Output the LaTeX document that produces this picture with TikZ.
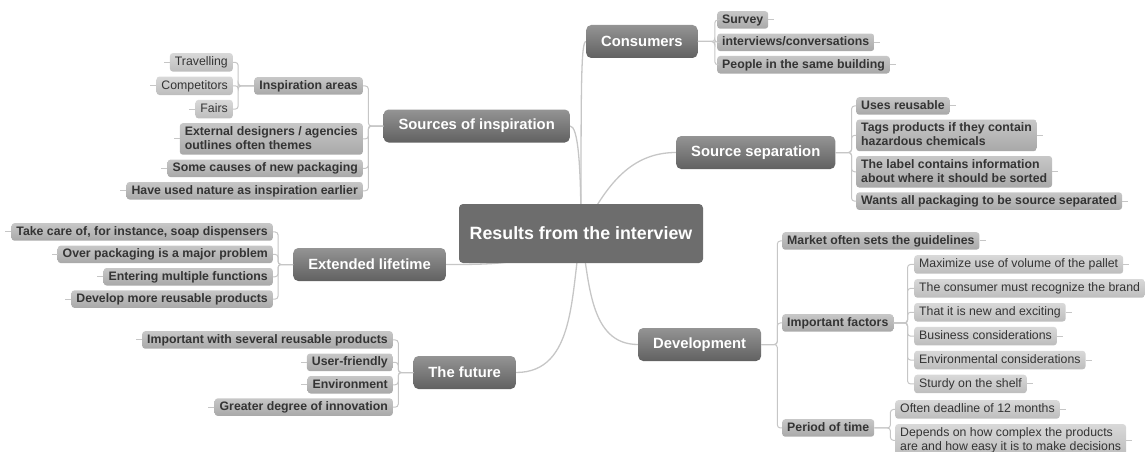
\documentclass[tikz,border=0pt]{standalone}
\usepackage{fontspec}
\setmainfont{Liberation Sans}
\usepackage{tikz}
\usetikzlibrary{positioning, backgrounds}
\definecolor{linkgray}{HTML}{C6C6C6}
\definecolor{rootgray}{HTML}{6D6D6D}
\definecolor{inkgray}{HTML}{343434}
\tikzset{
x=1pt, y=1pt,
link/.style={draw=linkgray, line width=1pt, rounded corners=3pt},
branch/.style={draw=linkgray, line width=1.3pt},
spine/.style={to path={-- ++(#1,0) |- (\tikztotarget)}},
root/.style={%
    rectangle,
    rounded corners=4pt,
    fill=rootgray,
    minimum width=244pt, minimum height=59pt,
    text=white,
    font=\fontsize{17.8}{20}\selectfont\bfseries
},
topic/.style={%
    rectangle,
    rounded corners=5pt,
    top color=black!42, bottom color=black!62,
    minimum height=33pt, inner xsep=15pt,
    text=white,
    font=\fontsize{14.8}{17}\selectfont\bfseries
},
sub/.style={%
    rectangle,
    rounded corners=3pt,
    top color=black!22, bottom color=black!34,
    inner xsep=5pt, inner ysep=2.5pt,
    text height=9.5pt, text depth=3pt,
    align=left, text=inkgray,
    font=\fontsize{12.3}{14}\selectfont\bfseries
},
item/.style={%
    sub,
    top color=black!15, bottom color=black!26,
    inner ysep=3pt,
    % plain weight for the third level
    font=\fontsize{12.3}{14}\selectfont
},
two/.style={text height=23.5pt},
rstub/.style={append after command={(\tikzlastnode.east) edge[link] ++(6,0)}},
lstub/.style={append after command={(\tikzlastnode.west) edge[link] ++(-6,0)}},
}

\begin{document}
\begin{tikzpicture}
	\useasboundingbox (0,0) rectangle (1145,-452);
	\node[root] (root) at (581,-233.5) {Results from the interview};

	% main topics
	\node[topic, anchor=west] (cons) at (586,-41.5) {Consumers};
	\node[topic, anchor=east] (insp) at (570,-126) {Sources of inspiration};
	\node[topic, anchor=west] (sep) at (676,-152.5) {Source separation};
	\node[topic, anchor=east] (life) at (446,-264.5) {Extended lifetime};
	\node[topic, anchor=east] (fut) at (516,-372.5) {The future};
	\node[topic, anchor=west] (dev) at (638,-344.5) {Development};

	% consumers
	\node[sub, rstub, anchor=north west] (survey) at (717,-11) {Survey};
	\node[sub, rstub, below=4.5pt of survey.south west, anchor=north west] (talks) {interviews/conversations};
	\node[sub, rstub, below=4.5pt of talks.south west, anchor=north west] (house) {People in the same building};

	% sources of inspiration
	\node[sub, anchor=north east] (areas) at (363,-77) {Inspiration areas};
	\node[item, lstub, anchor=east] (rivals) at (233,-85.75) {Competitors};
	\node[item, lstub, above=4.5pt of rivals.north east, anchor=south east] (travel) {Travelling};
	\node[item, lstub, below=4.5pt of rivals.south east, anchor=north east] (fairs) {Fairs};
	\node[sub, two, lstub, anchor=north east] (agency) at (363,-123) {External designers / agencies\\outlines often themes};
	\node[sub, lstub, below=4.5pt of agency.south east, anchor=north east] (causes) {Some causes of new packaging};
	\node[sub, lstub, below=4.5pt of causes.south east, anchor=north east] (nature) {Have used nature as inspiration earlier};

	% source separation
	\node[sub, rstub, anchor=north west] (reuse) at (856,-97) {Uses reusable};
	\node[sub, two, rstub, below=4.5pt of reuse.south west, anchor=north west] (tags) {Tags products if they contain\\hazardous chemicals};
	\node[sub, two, rstub, below=4.5pt of tags.south west, anchor=north west] (label) {The label contains information\\about where it should be sorted};
	\node[sub, rstub, below=4.5pt of label.south west, anchor=north west] (sorted) {Wants all packaging to be source separated};

	% extended lifetime
	\node[sub, lstub, anchor=north east] (soap) at (273,-223) {Take care of, for instance, soap dispensers};
	\node[sub, lstub, below=4.5pt of soap.south east, anchor=north east] (overpack) {Over packaging is a major problem};
	\node[sub, lstub, below=4.5pt of overpack.south east, anchor=north east] (multi) {Entering multiple functions};
	\node[sub, lstub, below=4.5pt of multi.south east, anchor=north east] (reusable) {Develop more reusable products};

	% the future
	\node[sub, lstub, anchor=north east] (several) at (393,-331) {Important with several reusable products};
	\node[sub, lstub, below=4.5pt of several.south east, anchor=north east] (friendly) {User-friendly};
	\node[sub, lstub, below=4.5pt of friendly.south east, anchor=north east] (environ) {Environment};
	\node[sub, lstub, below=4.5pt of environ.south east, anchor=north east] (innov) {Greater degree of innovation};

	% development
	\node[sub, rstub, anchor=north west] (market) at (782,-232) {Market often sets the guidelines};
	\node[sub, anchor=north west] (factors) at (782,-314) {Important factors};
	\node[sub, anchor=north west] (period) at (782,-419) {Period of time};
	\node[item, rstub, anchor=north west] (pallet) at (914,-255) {Maximize use of volume of the pallet};
	\node[item, rstub, below=5pt of pallet.south west, anchor=north west] (brand) {The consumer must recognize the brand};
	\node[item, rstub, below=5pt of brand.south west, anchor=north west] (novel) {That it is new and exciting};
	\node[item, rstub, below=5pt of novel.south west, anchor=north west] (business) {Business considerations};
	\node[item, rstub, below=5pt of business.south west, anchor=north west] (green) {Environmental considerations};
	\node[item, rstub, below=5pt of green.south west, anchor=north west] (shelf) {Sturdy on the shelf};
	\node[item, rstub, anchor=north west] (deadline) at (895,-400) {Often deadline of 12 months};
	\node[item, two, rstub, below=5pt of deadline.south west, anchor=north west] (decide) {Depends on how complex the products\\are and how easy it is to make decisions};

	% branches out of the root
	\begin{scope}[on background layer]
	\draw[branch] (root.center) to[out=90, in=180, out distance=150pt, in distance=5pt] (cons.west);
	\draw[branch] (root.center) to[out=90, in=0, out distance=70pt, in distance=8pt] (insp.east);
	\draw[branch] (root.center) to[out=62, in=180] (sep.west);
	\draw[branch] (root.center) to[out=215, in=0] (life.east);
	\draw[branch] (root.center) to[out=-100, in=0] (fut.east);
	\draw[branch] (root.center) to[out=-80, in=180] (dev.west);
	\end{scope}

	\foreach \n in {survey,talks,house} \draw[link] (cons.east) to[spine=17] (\n.west);
	\foreach \n in {areas,agency,causes,nature} \draw[link] (insp.west) to[spine=-15] (\n.east);
	\foreach \n in {travel,rivals,fairs} \draw[link] (areas.west) to[spine=-16] (\n.east);
	\foreach \n in {reuse,tags,label,sorted} \draw[link] (sep.east) to[spine=16] (\n.west);
	\foreach \n in {soap,overpack,multi,reusable} \draw[link] (life.west) to[spine=-15] (\n.east);
	\foreach \n in {several,friendly,environ,innov} \draw[link] (fut.west) to[spine=-15] (\n.east);
	\foreach \n in {market,factors,period} \draw[link] (dev.east) to[spine=16] (\n.west);
	\foreach \n in {pallet,brand,novel,business,green,shelf} \draw[link] (factors.east) to[spine=14] (\n.west);
	\foreach \n in {deadline,decide} \draw[link] (period.east) to[spine=16] (\n.west);
\end{tikzpicture}
\end{document}
